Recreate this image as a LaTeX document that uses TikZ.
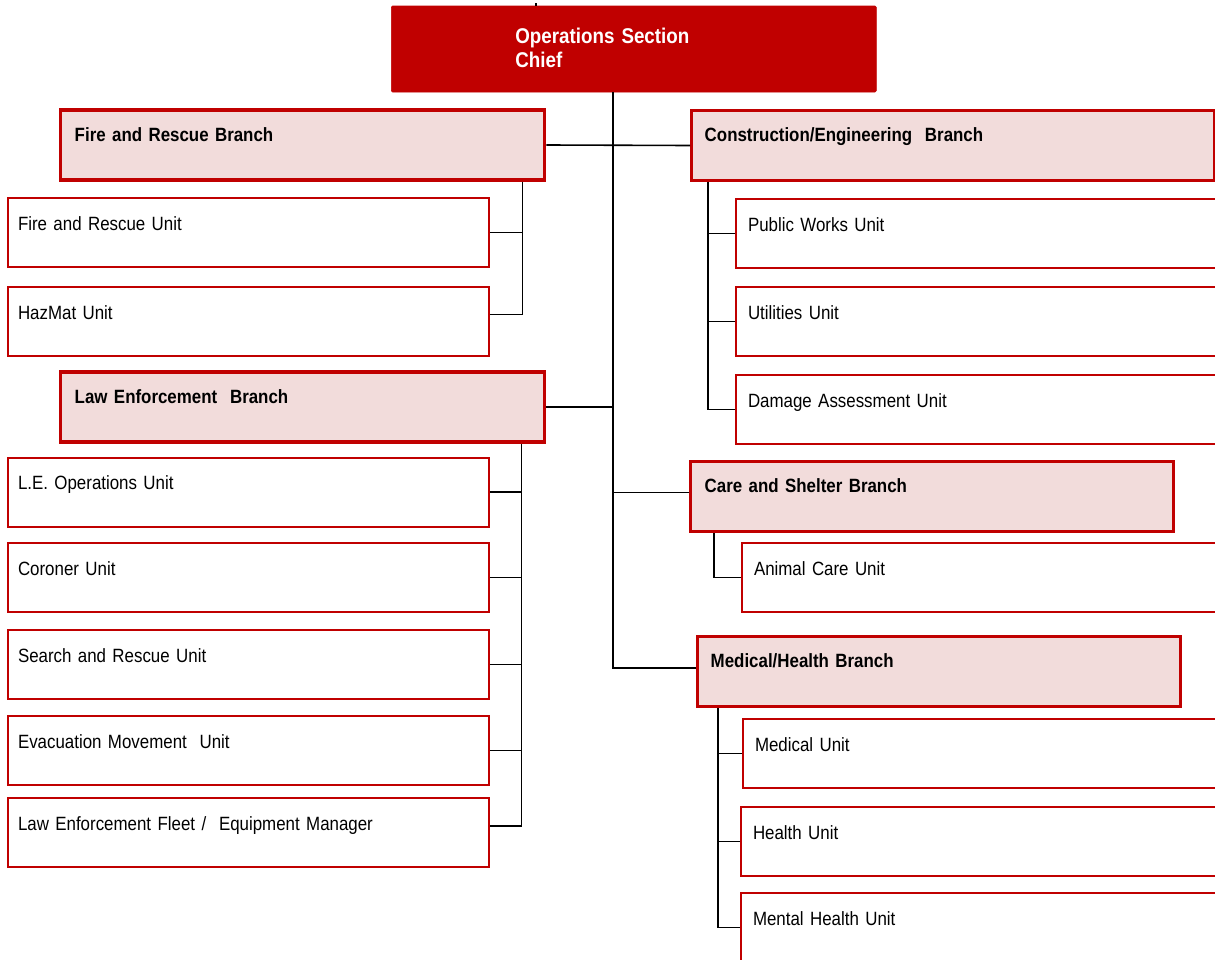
\documentclass[tikz,border=0pt]{standalone}
\usepackage{fontspec}
\setmainfont{Liberation Sans}[FakeStretch=0.88, WordSpace={0.7,0.5,0.3}]
\usetikzlibrary{calc}
\definecolor{ocred}{HTML}{C00000}
\definecolor{branchfill}{HTML}{F2DCDB}

\begin{document}
\begin{tikzpicture}[x=0.75pt,y=-0.75pt,
  box/.style={rectangle, inner ysep=0pt, anchor=west},
  unitbox/.style={box, draw=ocred, line width=1.5pt, fill=white,
    minimum height=51.75pt, inner xsep=9pt, text width=360pt,
    text height=8pt, text depth=11.75pt,
    font=\fontsize{14.4}{17}\selectfont},
  leftunit/.style={unitbox, inner xsep=7.5pt, text width=345.75pt},
  branchbox/.style={box, draw=ocred, line width=2.6pt, fill=branchfill,
    minimum height=52.5pt, inner xsep=10.5pt, text width=342pt,
    text height=8pt, text depth=14pt,
    font=\bfseries\fontsize{14.4}{17}\selectfont},
  chief/.style={box, fill=ocred, draw=ocred, line width=0.5pt,
    rounded corners=1pt, text=white, minimum height=64.5pt,
    inner xsep=93pt, text width=177.75pt, text height=8pt, text depth=17pt,
    font=\bfseries\fontsize{16}{18}\selectfont},
  link/.style={draw=black, line width=1.2pt},
]
\useasboundingbox (0,0) rectangle (1215,960);
\clip (0,0) rectangle (1215,960);

% section chief
\node[chief] (osc) at (391,49) {Operations Section\newline Chief};

% left column
\node[branchbox] (fab) at (59,145) {Fire and Rescue Branch};
\node[leftunit] (fru) at (7,232.5) {Fire and Rescue Unit};
\node[leftunit] (hmu) at (7,321.5) {HazMat Unit};

\node[branchbox] (leb) at (59,407) {Law Enforcement~ Branch};
\node[leftunit] (leo) at (7,492) {L.E. Operations Unit};
\node[leftunit] (cru) at (7,577.5) {Coroner Unit};
\node[leftunit] (sru) at (7,664.5) {Search and Rescue Unit};
\node[leftunit] (emu) at (7,750.5) {Evacuation Movement~ Unit};
\node[leftunit] (lfm) at (7,832.5) {Law Enforcement Fleet /~ Equipment Manager};

% right column
\node[branchbox, inner xsep=9.75pt, text width=372.75pt] (ceb) at (690,145.5) {Construction/Engineering~ Branch};
\node[unitbox] (pwu) at (735,233.5) {Public Works Unit};
\node[unitbox] (utu) at (735,321.5) {Utilities Unit};
\node[unitbox] (dau) at (735,409.5) {Damage Assessment Unit};

\node[branchbox, text width=341.25pt] (csb) at (689,496.5) {Care and Shelter Branch};
\node[unitbox] (acu) at (741,577.5) {Animal Care Unit};

\node[branchbox, inner xsep=9.75pt, text width=342.75pt] (mhb) at (696,671.5) {Medical/Health Branch};
\node[unitbox] (mdu) at (742,753.5) {Medical Unit};
\node[unitbox] (hlu) at (740,841.5) {Health Unit};
\node[unitbox] (mtu) at (740,927.5) {Mental Health Unit};

% main trunk from the section chief
\coordinate (trunk) at ($(osc.south west)+(222,0)$);
\draw[link, line width=0.8pt] (osc.north -| trunk) ++(-77,0) -- ++(0,-3);
\draw[link] (trunk) |- ([yshift=2.6pt]mhb.west);
\draw[link] (fab.east) -- (ceb.west);
\draw[link] (leb.east) -- (leb.east -| trunk);
\draw[link] ([yshift=3pt]csb.west) -- ([yshift=3pt]csb.west -| trunk);

% fire and rescue branch
\coordinate (fbus) at ($(fab.south east)+(-24,0)$);
\draw[link] (fbus) |- ([yshift=5.25pt]hmu.east);
\draw[link] (fru.east) -- (fru.east -| fbus);

% law enforcement branch
\coordinate (lbus) at ($(leb.south east)+(-25,0)$);
\draw[link] (lbus) |- ([yshift=4.9pt]lfm.east);
\foreach \u in {leo,cru,sru,emu}
  \draw[link] (\u.east) -- (\u.east -| lbus);

% construction/engineering branch
\coordinate (cbus) at ($(ceb.south west)+(18,0)$);
\draw[link] (cbus) |- (dau.west);
\foreach \u in {pwu,utu}
  \draw[link] (\u.west) -- (\u.west -| cbus);

% care and shelter branch
\coordinate (sbus) at ($(csb.south west)+(25,0)$);
\draw[link] (sbus) |- (acu.west);

% medical/health branch
\coordinate (mbus) at ($(mhb.south west)+(22,0)$);
\draw[link] (mbus) |- (mtu.west);
\foreach \u in {mdu,hlu}
  \draw[link] (\u.west) -- (\u.west -| mbus);
\end{tikzpicture}
\end{document}
